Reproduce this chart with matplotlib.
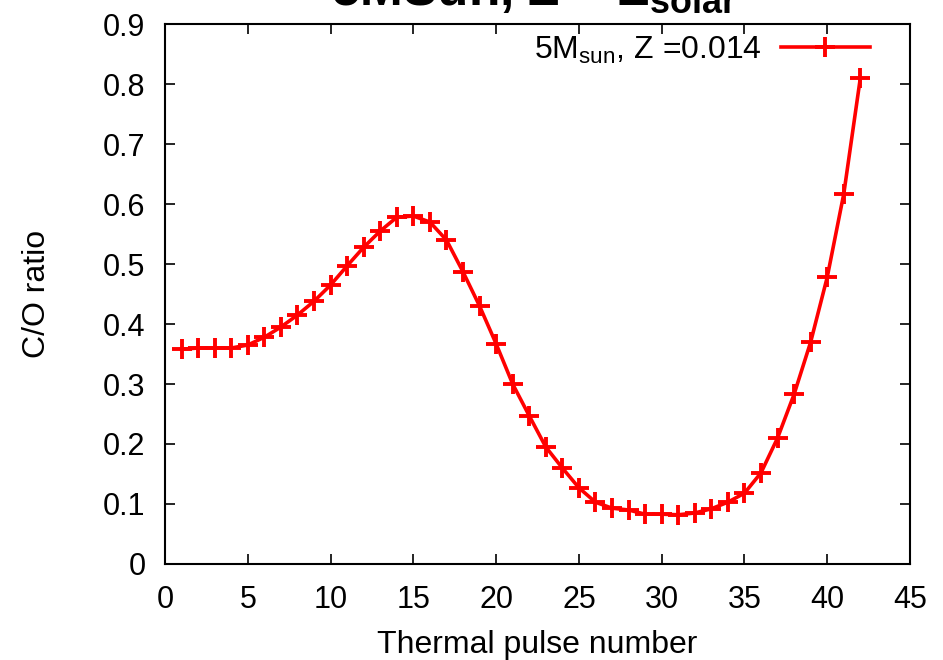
import numpy as np
import matplotlib
matplotlib.use('Agg')
import matplotlib.pyplot as plt

plt.rcParams['font.family'] = ['Liberation Sans', 'DejaVu Sans']
plt.rcParams['mathtext.fontset'] = 'custom'
plt.rcParams['mathtext.rm'] = 'Liberation Sans'
plt.rcParams['mathtext.bf'] = 'Liberation Sans:bold'

# thermal pulse number and C/O ratio
pulse = list(range(1, 43))
co_ratio = [0.358, 0.360, 0.360, 0.360, 0.365, 0.378, 0.395, 0.415, 0.438, 0.465,
            0.497, 0.528, 0.555, 0.578, 0.580, 0.570, 0.540, 0.487, 0.430, 0.367,
            0.300, 0.247, 0.195, 0.160, 0.127, 0.103, 0.093, 0.090, 0.083, 0.083,
            0.082, 0.085, 0.092, 0.103, 0.118, 0.152, 0.210, 0.283, 0.370, 0.478,
            0.617, 0.810]

xticks = np.arange(0, 46, 5)
yticks = np.round(np.arange(0, 0.91, 0.1), 1)

fig = plt.figure(figsize=(9.43, 6.6), dpi=100)
ax = fig.add_axes([0.175, 0.1455, 0.79, 0.818])

ax.plot(pulse, co_ratio, color='red', lw=2.6, marker='+', ms=14, mew=2.8,
        label='5M$_\\mathrm{sun}$, Z =0.014')

ax.set_xlim(0, 45)
ax.set_ylim(0, 0.9)
ax.set_xticks(xticks)
ax.set_yticks(yticks)
ax.set_yticklabels([('%g' % v) for v in yticks])
ax.tick_params(direction='in', length=7, width=1.2, labelsize=22,
               top=True, right=True)
ax.tick_params(axis='y', pad=14)
ax.tick_params(axis='x', pad=15)
for s in ax.spines.values():
    s.set_linewidth(1.5)

ax.set_xlabel('Thermal pulse number', fontsize=23)
ax.set_ylabel('C/O ratio', fontsize=23)
ax.xaxis.set_label_coords(0.5, -0.122)
ax.yaxis.set_label_coords(-0.152, 0.5)

leg = ax.legend(loc='upper right', frameon=False, fontsize=23, markerfirst=False,
                handlelength=2.8, handletextpad=0.6, borderaxespad=0.0,
                borderpad=0.2, bbox_to_anchor=(0.955, 0.993))

fig.text(0.566, 0.993, '5MSun, Z = Z$_\\mathbf{solar}$', ha='center', va='baseline',
         fontsize=37, fontweight='bold')

plt.savefig('out.png', dpi=100)
